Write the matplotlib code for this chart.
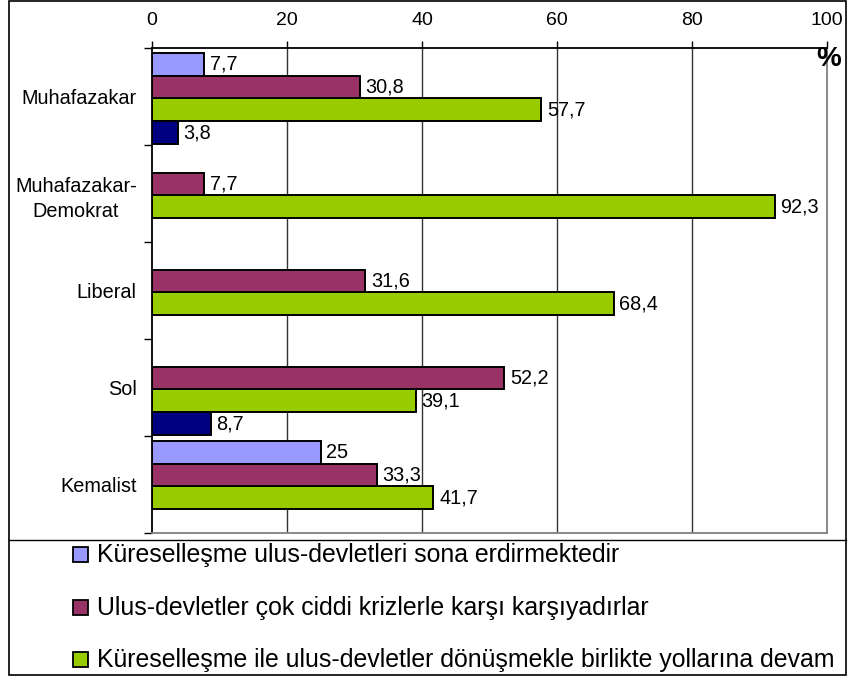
import numpy as np
import matplotlib.pyplot as plt
from matplotlib.patches import Rectangle
from matplotlib.lines import Line2D

plt.rcParams['font.family'] = ['Liberation Sans', 'DejaVu Sans']

# Data
categories = ['Muhafazakar', 'Muhafazakar-\nDemokrat', 'Liberal', 'Sol', 'Kemalist']
series_names = ['Küreselleşme ulus-devletleri sona erdirmektedir',
                'Ulus-devletler çok ciddi krizlerle karşı karşıyadırlar',
                'Küreselleşme ile ulus-devletler dönüşmekle birlikte yollarına devam']
sona_erdiriyor = [7.7, None, None, None, 25]
kriz = [30.8, 7.7, 31.6, 52.2, 33.3]
devam = [57.7, 92.3, 68.4, 39.1, 41.7]
diger = [3.8, None, None, 8.7, None]
colors = ['#9999FF', '#993366', '#99CC00', '#000080']

all_series = [sona_erdiriyor, kriz, devam, diger]

fig = plt.figure(figsize=(8.48, 6.77), dpi=100)
ax = fig.add_axes([152 / 848, 1 - 533 / 677, 675 / 848, 485 / 677])

h = 0.235
y = np.arange(len(categories))
for i, vals in enumerate(all_series):
    off = (i - 1.5) * h
    for j, v in enumerate(vals):
        if v is None:
            continue
        ax.barh(y[j] + off + 0.02, v, height=h, color=colors[i],
                edgecolor='black', linewidth=1.4, zorder=3)
        lbl = ('%g' % v).replace('.', ',')
        ax.annotate(lbl, (v, y[j] + off + 0.02), xytext=(4, 0),
                    textcoords='offset points', va='center', ha='left',
                    fontsize=14.3, zorder=4)

ax.set_xlim(0, 100)
ax.set_ylim(len(categories) - 0.5, -0.5)
ax.xaxis.tick_top()
ax.set_xticks([0, 20, 40, 60, 80, 100])
ax.tick_params(axis='x', direction='out', length=5, width=1, pad=9,
               labelsize=14)
ax.set_yticks(np.arange(-0.5, len(categories), 1.0))
ax.set_yticklabels([])
ax.set_yticks(y, minor=True)
ax.set_yticklabels(categories, minor=True, fontsize=14.3, ha='right',
                   multialignment='center', linespacing=1.45)
ax.tick_params(axis='y', which='major', direction='out', length=6, width=1)
ax.tick_params(axis='y', which='minor', length=0, pad=11)

for gx in [20, 40, 60, 80]:
    ax.axvline(gx, color='#333333', linewidth=1, zorder=1)

ax.spines['top'].set_color('black')
ax.spines['left'].set_color('black')
ax.spines['right'].set_color('#808080')
ax.spines['bottom'].set_color('#808080')
for s in ax.spines.values():
    s.set_linewidth(1.3)

fig.text(829 / 848, 1 - 59 / 677, '%', fontsize=20, fontweight='bold',
         ha='center', va='center')

# Frame and separator
fig.add_artist(Rectangle((9 / 848, 2 / 677), 837 / 848, 674 / 677,
                         transform=fig.transFigure, fill=False,
                         edgecolor='black', linewidth=1.2))
fig.add_artist(Line2D([9 / 848, 846 / 848], [1 - 540 / 677, 1 - 540 / 677],
                      transform=fig.transFigure, color='black', linewidth=1))

# Legend (only the visible entries)
row_y = [555, 608, 660]
for i, name in enumerate(series_names):
    yy = 1 - row_y[i] / 677
    fig.add_artist(Rectangle((73 / 848, yy - 7 / 677), 15 / 848, 15 / 677,
                             transform=fig.transFigure,
                             facecolor=colors[i], edgecolor='black',
                             linewidth=1.3))
    fig.text(97 / 848, yy, name, fontsize=17.9, ha='left', va='center')

fig.savefig('out.png', dpi=100)
